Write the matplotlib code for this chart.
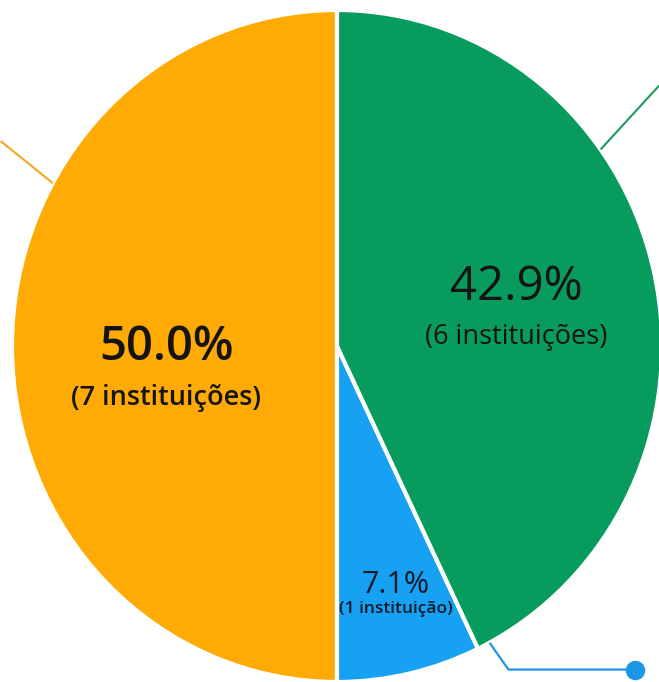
import numpy as np
import matplotlib
matplotlib.use("Agg")
import matplotlib.pyplot as plt

# ---- data ----
categories = ["Grupo A", "Grupo B", "Grupo C"]
counts = [7, 1, 6]
percent_labels = ["50.0%", "7.1%", "42.9%"]
count_labels = ["(7 instituições)", "(1 instituição)", "(6 instituições)"]
colors = ["#FFAA05", "#17A1F2", "#089B5E"]
line_colors = ["#F5A623", "#1E96E6", "#1F9A5E"]

W, H = 659, 682
fig = plt.figure(figsize=(W / 100, H / 100), dpi=100)
ax = fig.add_axes([0, 0, 1, 1])

wedges, _ = ax.pie(counts, colors=colors, startangle=90, counterclock=True,
                   radius=1.0, center=(0, 0),
                   wedgeprops=dict(edgecolor="white", linewidth=3.0))

# pixel-based view mapping (pie center at px (337,346), rx=325, ry=336)
cx, cy, rx, ry = 337.0, 346.0, 325.0, 336.0
ax.set_aspect("auto")
ax.set_xlim(-cx / rx, (W - cx) / rx)
ax.set_ylim((cy - H) / ry, cy / ry)
ax.axis("off")

fam = ["Open Sans", "DejaVu Sans"]
txt = "#141414"

# labels: (x, y) in pie units
ax.text(-0.525, -0.005, percent_labels[0], ha="center", va="center",
        fontsize=34, fontweight="semibold", family=fam, color=txt)
ax.text(-0.525, -0.155, count_labels[0], ha="center", va="center",
        fontsize=19.5, fontweight="semibold", family=fam, color=txt)

ax.text(0.551, 0.176, percent_labels[2], ha="center", va="center",
        fontsize=34, fontweight="medium", family=fam, color=txt)
ax.text(0.551, 0.027, count_labels[2], ha="center", va="center",
        fontsize=19.5, fontweight="medium", family=fam, color=txt)

ax.text(0.182, -0.712, percent_labels[1], ha="center", va="center",
        fontsize=22, fontweight="medium", family=fam, color="#101b2a")
ax.text(0.182, -0.782, count_labels[1], ha="center", va="center",
        fontsize=12.5, fontweight="semibold", family=fam, color="#101b2a")

# leader lines
def edge(angle_deg):
    a = np.deg2rad(angle_deg)
    return np.cos(a), np.sin(a)

# orange
x0, y0 = edge(151)
ax.plot([x0, x0 - 0.16], [y0, y0 + 0.125], color=line_colors[0], lw=1.5,
        solid_capstyle="butt")
# green
x0, y0 = edge(35.8)
ax.plot([x0, x0 + 0.18], [y0, y0 + 0.19], color=line_colors[2], lw=1.5,
        solid_capstyle="butt")
# blue
x0, y0 = edge(-62.0)
xm, ym = x0 + 0.058, y0 - 0.08
xe = xm + 0.39
ax.plot([x0, xm, xe], [y0, ym, ym], color=line_colors[1], lw=1.6,
        solid_capstyle="butt")
ax.plot([xe], [ym], marker="o", markersize=14, color=line_colors[1],
        markeredgewidth=0)

fig.savefig("out.png", dpi=100, facecolor="white")
